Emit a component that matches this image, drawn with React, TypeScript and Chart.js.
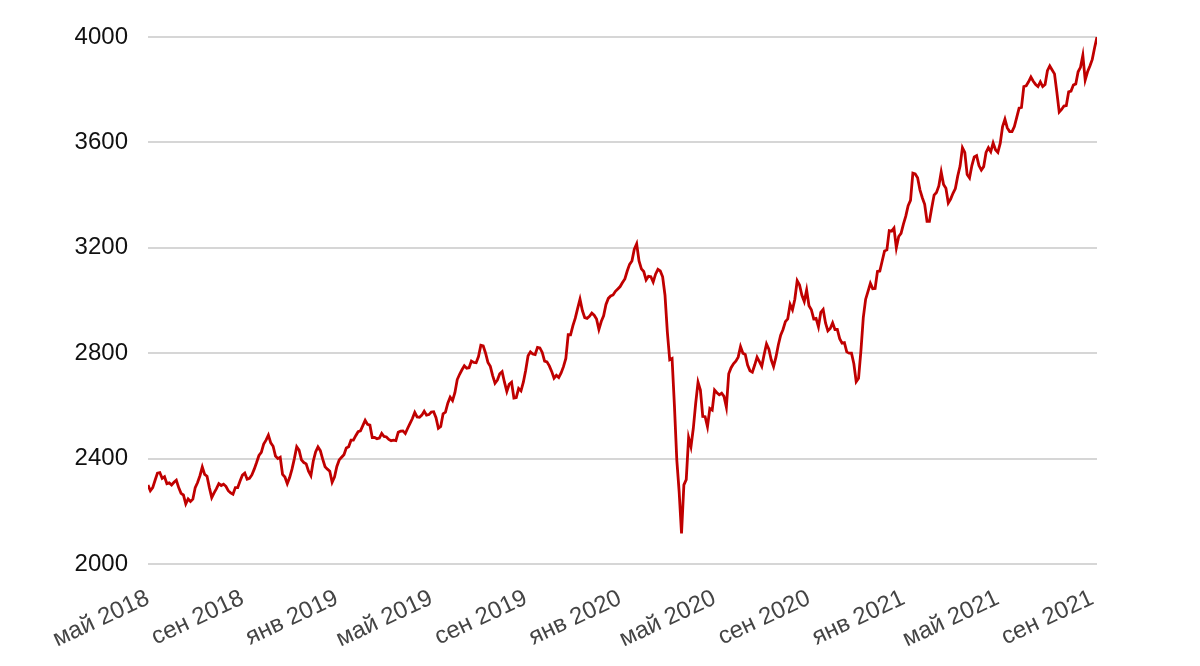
import React, { useEffect, useRef } from "react";
import { Chart, registerables } from "chart.js";

Chart.register(...registerables);

// Samples every 0.1 month from May 2018 to Sep 2021
const values: number[] = [
  2300, 2278, 2290, 2318, 2345, 2347, 2325, 2331, 2305, 2308,
  2300, 2310, 2318, 2290, 2268, 2262, 2228, 2247, 2237, 2246,
  2290, 2309, 2335, 2368, 2340, 2333, 2290, 2252, 2270, 2286,
  2305, 2298, 2303, 2295, 2278, 2270, 2265, 2290, 2290, 2315,
  2337, 2345, 2322, 2325, 2338, 2360, 2385, 2412, 2424, 2455,
  2470, 2489, 2460, 2447, 2410, 2400, 2405, 2340, 2330, 2305,
  2328, 2360, 2400, 2445, 2432, 2395, 2385, 2380, 2352, 2335,
  2390, 2425, 2444, 2430, 2398, 2369, 2360, 2352, 2310, 2330,
  2370, 2395, 2405, 2415, 2440, 2445, 2470, 2470, 2487, 2502,
  2505, 2525, 2545, 2530, 2527, 2480, 2480, 2475, 2478, 2496,
  2484, 2482, 2473, 2468, 2470, 2468, 2500, 2504, 2505, 2495,
  2515, 2534, 2552, 2575, 2558, 2557, 2565, 2580, 2565, 2567,
  2577, 2578, 2555, 2515, 2522, 2570, 2576, 2610, 2633, 2620,
  2650, 2700, 2720, 2737, 2752, 2743, 2745, 2770, 2765, 2764,
  2787, 2830, 2828, 2800, 2765, 2750, 2715, 2686, 2698, 2722,
  2730, 2690, 2655, 2682, 2690, 2630, 2632, 2666, 2657, 2690,
  2735, 2790, 2805, 2797, 2795, 2822, 2820, 2803, 2770, 2767,
  2752, 2731, 2705, 2716, 2708, 2725, 2749, 2780, 2870, 2870,
  2905, 2933, 2970, 3005, 2962, 2935, 2932, 2940, 2952, 2944,
  2930, 2890, 2920, 2942, 2985, 3008, 3017, 3021, 3035, 3044,
  3053, 3068, 3082, 3112, 3137, 3150, 3195, 3215, 3150, 3120,
  3110, 3078, 3092, 3090, 3070, 3100, 3118, 3112, 3090, 3020,
  2880, 2775, 2780, 2600, 2395, 2274, 2116, 2300, 2320, 2480,
  2445, 2515, 2610, 2690, 2660, 2560, 2559, 2521, 2590, 2584,
  2660, 2650, 2642, 2648, 2636, 2595, 2722, 2745, 2760, 2770,
  2785, 2825, 2800, 2795, 2755, 2733, 2728, 2755, 2785, 2768,
  2750, 2795, 2835, 2815, 2775, 2749, 2785, 2831, 2868, 2890,
  2920, 2930, 2985, 2965, 3005, 3075, 3059, 3020, 2996, 3040,
  2980, 2965, 2930, 2932, 2900, 2955, 2966, 2915, 2885, 2894,
  2915, 2890, 2890, 2855, 2838, 2840, 2805, 2800, 2800, 2760,
  2692, 2705, 2810, 2935, 3005, 3035, 3065, 3045, 3046, 3110,
  3112, 3150, 3188, 3192, 3265, 3263, 3275, 3200, 3243, 3255,
  3290, 3320, 3360, 3380, 3483, 3480, 3466, 3420, 3390, 3365,
  3300, 3300, 3352, 3400, 3410, 3435, 3488, 3440, 3426, 3370,
  3385, 3407, 3425, 3472, 3510, 3580, 3562, 3478, 3465, 3512,
  3545, 3550, 3512, 3495, 3508, 3562, 3580, 3565, 3598, 3572,
  3562, 3596, 3660, 3688, 3655, 3641, 3641, 3660, 3695, 3730,
  3733, 3812, 3815, 3830, 3848, 3832, 3820, 3812, 3830, 3812,
  3820, 3872, 3890, 3875, 3860, 3790, 3715, 3725, 3738, 3740,
  3792, 3795, 3818, 3822, 3868, 3885, 3930, 3837, 3868, 3890,
  3915, 3960, 4000,
];

// Positions (in sample steps) of the month tick labels, every 4 months
const tickPositions: number[] = [0, 40, 80, 120, 160, 200, 240, 280, 320, 360, 400];
const tickLabels: string[] = [
  "май 2018", "сен 2018", "янв 2019", "май 2019", "сен 2019", "янв 2020",
  "май 2020", "сен 2020", "янв 2021", "май 2021", "сен 2021",
];

const yTicks: number[] = [2000, 2400, 2800, 3200, 3600, 4000];

export default function App() {
  const ref = useRef<HTMLCanvasElement | null>(null);

  useEffect(() => {
    if (!ref.current) return;
    const points = values.map((v, i) => ({ x: i, y: v }));
    const chart = new Chart(ref.current, {
      type: "line",
      data: {
        datasets: [
          {
            data: points,
            borderColor: "#c00000",
            borderWidth: 2.8,
            pointRadius: 0,
            tension: 0,
            fill: false,
          },
        ],
      },
      options: {
        animation: false,
        responsive: true,
        maintainAspectRatio: false,
        layout: { padding: { top: 37, right: 103, left: 0, bottom: 0 } },
        plugins: { legend: { display: false }, tooltip: { enabled: false } },
        scales: {
          x: {
            type: "linear",
            min: 0,
            max: values.length - 1,
            grid: { display: false, drawTicks: false },
            border: { display: false },
            afterBuildTicks: (scale: any) => {
              scale.ticks = tickPositions.map((v) => ({ value: v }));
            },
            afterFit: (scale: any) => {
              scale.height = 102;
            },
            ticks: {
              autoSkip: false,
              minRotation: 25,
              maxRotation: 25,
              padding: 20,
              color: "#444444",
              font: { family: "'Liberation Sans', Arial, sans-serif", size: 24 },
              callback: (value: any) => {
                const idx = tickPositions.indexOf(Number(value));
                return idx >= 0 ? tickLabels[idx] : "";
              },
            },
          },
          y: {
            min: 2000,
            max: 4000,
            afterBuildTicks: (scale: any) => {
              scale.ticks = yTicks.map((v) => ({ value: v }));
            },
            afterFit: (scale: any) => {
              scale.width = 148;
            },
            grid: { color: "#d6d6d6", lineWidth: 2, drawTicks: false },
            border: { display: false },
            ticks: {
              padding: 20,
              color: "#111111",
              font: { family: "'Liberation Sans', Arial, sans-serif", size: 24 },
              callback: (value: any) => String(value),
            },
          },
        },
      },
    });
    return () => chart.destroy();
  }, []);

  return (
    <div style={{ position: "fixed", left: 0, top: 0, width: 1200, height: 666, background: "#fff" }}>
      <canvas ref={ref} />
    </div>
  );
}
